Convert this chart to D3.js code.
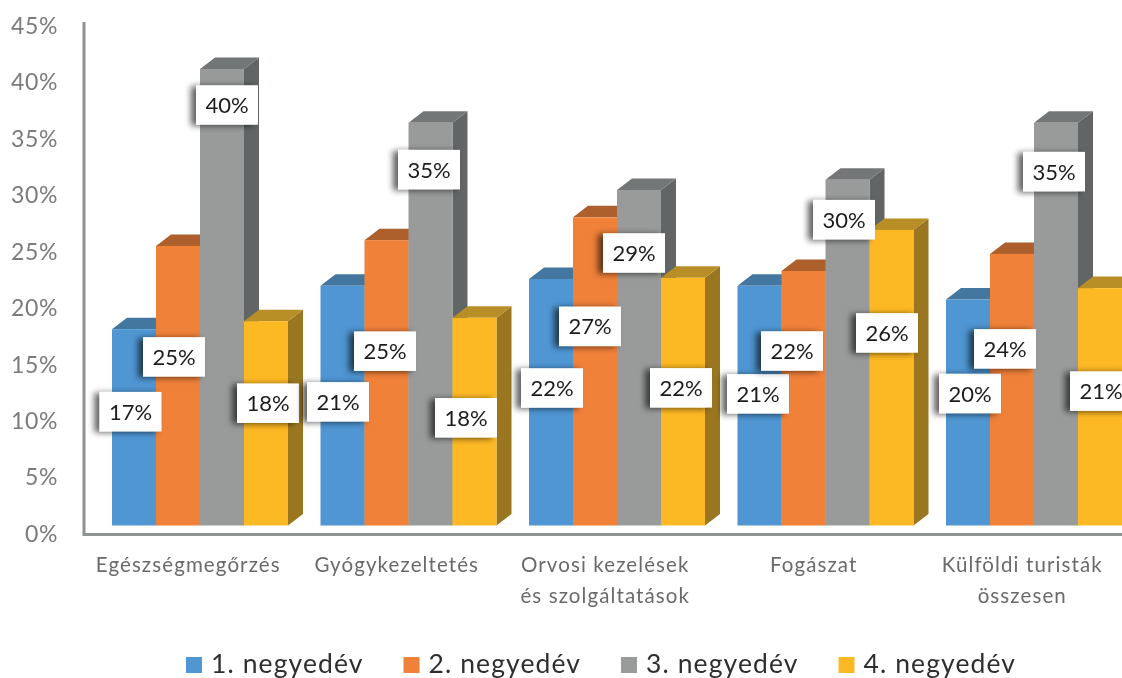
<!DOCTYPE html>
<html lang="hu">
<head>
  <meta charset="UTF-8">
  <title>Negyedéves megoszlás</title>
  <script src="https://d3js.org/d3.v7.min.js"></script>
  <style>
    html, body { margin: 0; padding: 0; background: #fff; overflow: hidden; }
    svg { display: block; font-family: Lato, "Open Sans", sans-serif; filter: blur(0.4px); }
    .tick-y text { font-family: Lato, "Open Sans", sans-serif; font-size: 23px; fill: #7b7b7b; letter-spacing: 0.6px; }
    .cat text { font-size: 20.5px; fill: #6a6a6a; letter-spacing: 1.1px; }
    .label text { font-size: 22px; fill: #1c1c1c; }
    .legend text { font-size: 26.5px; fill: #2f2f2f; letter-spacing: 1.1px; }
  </style>
</head>
<body>
  <div id="chart"></div>
  <script>
    const categories = ["Egészségmegőrzés", "Gyógykezeltetés", "Orvosi kezelések|és szolgáltatások", "Fogászat", "Külföldi turisták|összesen"];
    const quarters = ["1. negyedév", "2. negyedév", "3. negyedév", "4. negyedév"];
    const q1 = [17.2, 21, 21.6, 21, 19.8];
    const q2 = [24.5, 25, 27, 22.3, 23.8];
    const q3 = [40, 35.3, 29.4, 30.3, 35.3];
    const q4 = [17.9, 18.2, 21.7, 25.9, 20.8];
    const q1Labels = ["17%", "21%", "22%", "21%", "20%"];
    const q2Labels = ["25%", "25%", "27%", "22%", "24%"];
    const q3Labels = ["40%", "35%", "29%", "30%", "35%"];
    const q4Labels = ["18%", "18%", "22%", "26%", "21%"];
    const yTicks = [0, 5, 10, 15, 20, 25, 30, 35, 40, 45];

    const values = [q1, q2, q3, q4];
    const labels = [q1Labels, q2Labels, q3Labels, q4Labels];

    // kézzel elhelyezett címkék eltolása az oszlop tetejéhez képest [dx, dy], negyedévenként
    const labelShift = [
      [[-3.5, 82.5], [-4.5, 116], [1, 109], [-1.5, 108], [2, 94]],
      [[-4, 111], [-1.5, 111], [-5, 109], [-11.5, 80], [-7, 95]],
      [[5, 36], [-1.5, 47], [-5, 63], [-3.5, 40], [-2, 49]],
      [[2, 82], [-8.5, 100], [-2, 110], [-4.5, 103], [1, 103]]
    ];

    const front = ["#4f96d3", "#f08139", "#999b9b", "#fdb924"];
    const top_ = ["#44779f", "#ad5f2c", "#737677", "#b88e26"];
    const side = ["#3d6c92", "#9c5527", "#626566", "#9a7620"];

    const W = 1122, H = 678;
    const depthX = 15, depthY = 11.5;

    const svg = d3.select("#chart").append("svg").attr("width", W).attr("height", H);

    const defs = svg.append("defs");
    defs.append("filter").attr("id", "lblShadow")
        .attr("x", "-30%").attr("y", "-30%").attr("width", "160%").attr("height", "160%")
      .append("feDropShadow")
        .attr("dx", -5).attr("dy", 1).attr("stdDeviation", 3)
        .attr("flood-color", "#000").attr("flood-opacity", 0.62);

    // Tengelyfelirat és oszlopok kicsit eltérő skálán vannak a képen (térhatás miatt)
    const yAxisScale = d3.scaleLinear().domain([0, 45]).range([534, 26]);
    const y = d3.scaleLinear().domain([0, 40]).range([525.5, 69]);
    const x = d3.scaleBand().domain(categories).range([84, 1126.5]);
    const xq = d3.scaleBand().domain(d3.range(4)).range([28, 204]);

    // Tengelyek
    const gy = svg.append("g").attr("class", "tick-y").attr("transform", "translate(58,0)")
      .call(d3.axisLeft(yAxisScale).tickValues(yTicks).tickFormat(d => d + "%").tickSize(0).tickPadding(0));
    gy.select(".domain").remove();

    svg.append("path")
      .attr("d", "M84,22V534.5H1122")
      .attr("fill", "none")
      .attr("stroke", "#8f9393")
      .attr("stroke-width", 3);

    // Oszlopok
    categories.forEach((cat, c) => {
      values.forEach((series, q) => {
        const x0 = x(cat) + xq(q), x1 = x0 + xq.bandwidth();
        const yT = y(series[c]), yB = y(0);
        const g = svg.append("g");
        g.append("path")
          .attr("fill", side[q])
          .attr("d", `M${x1},${yT}l${depthX},${-depthY}V${yB - depthY}L${x1},${yB}Z`);
        g.append("path")
          .attr("fill", top_[q])
          .attr("d", `M${x0},${yT}l${depthX},${-depthY}H${x1 + depthX}L${x1},${yT}Z`);
        g.append("rect")
          .attr("x", x0).attr("y", yT)
          .attr("width", xq.bandwidth()).attr("height", yB - yT)
          .attr("fill", front[q]);
      });
    });

    // Címkék
    const boxW = 62, boxH = 39.5;
    categories.forEach((cat, c) => {
      values.forEach((series, q) => {
        const cx = x(cat) + xq(q) + xq.bandwidth() / 2 + labelShift[q][c][0];
        const cy = y(series[c]) + labelShift[q][c][1];
        const g = svg.append("g").attr("class", "label");
        g.append("rect")
          .attr("x", cx - boxW / 2).attr("y", cy - boxH / 2)
          .attr("width", boxW).attr("height", boxH)
          .attr("fill", "#fff")
          .attr("filter", "url(#lblShadow)");
        g.append("text")
          .attr("x", cx).attr("y", cy + 8)
          .attr("text-anchor", "middle")
          .text(labels[q][c]);
      });
    });

    // Kategóriák
    const cats = svg.append("g").attr("class", "cat");
    categories.forEach(cat => {
      const t = cats.append("text")
        .attr("x", x(cat) + x.bandwidth() / 2)
        .attr("y", 572)
        .attr("text-anchor", "middle");
      cat.split("|").forEach((line, i) => {
        t.append("tspan")
          .attr("x", x(cat) + x.bandwidth() / 2)
          .attr("dy", i ? 31 : 0)
          .text(line);
      });
    });

    // Jelmagyarázat
    const legendX = d3.scaleBand().domain(quarters).range([186, 186 + 4 * 217.5]);
    const legend = svg.append("g").attr("class", "legend");
    quarters.forEach((name, q) => {
      legend.append("rect")
        .attr("x", legendX(name)).attr("y", 657)
        .attr("width", 16).attr("height", 16)
        .attr("fill", front[q]);
      legend.append("text")
        .attr("x", legendX(name) + 25).attr("y", 673)
        .text(name);
    });
  </script>
</body>
</html>
